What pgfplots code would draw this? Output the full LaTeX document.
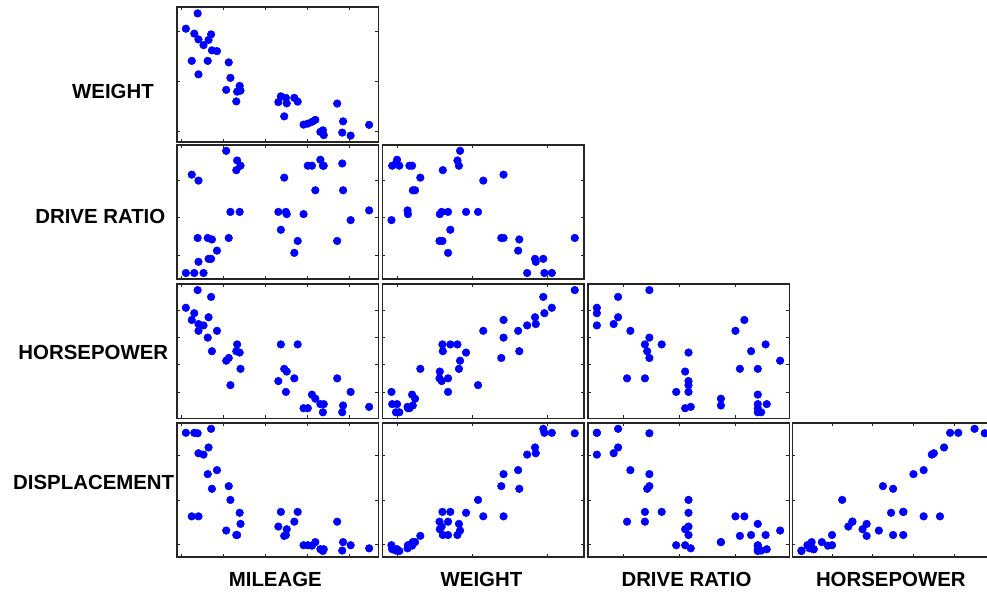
\documentclass[border=0pt]{standalone}
\usepackage{pgfplots}
\usepackage{pgfplotstable}
\pgfplotsset{compat=1.18}
\usepackage{fontspec}
\setmainfont{Liberation Sans}
\definecolor{ptblue}{RGB}{0,0,255}

\pgfplotstableread{
mpg weight drive hp disp
16.9 4.360 2.73 155 350
15.5 4.054 2.26 142 351
19.2 3.605 2.56 125 267
18.5 3.940 2.45 150 360
30.0 2.155 3.70 68 98
27.5 2.560 3.05 95 134
27.2 2.300 3.54 97 119
30.9 2.230 3.37 75 105
20.3 2.830 3.90 103 131
17.0 3.140 3.50 125 163
21.6 2.795 3.77 115 121
16.2 3.410 3.58 133 163
20.6 3.380 2.73 105 231
20.8 3.070 3.08 85 200
18.6 3.620 2.71 110 225
18.1 3.410 2.73 120 258
17.0 3.840 2.41 130 305
17.6 3.725 2.26 129 302
16.5 3.955 2.26 138 351
18.2 3.830 2.45 135 318
26.5 2.585 3.08 88 140
21.9 2.910 3.08 109 171
34.1 1.975 3.73 65 86
35.1 1.915 2.97 80 98
27.4 2.670 3.08 80 121
31.5 1.990 3.78 71 89
29.5 2.135 3.05 68 98
28.4 2.670 2.53 90 151
28.8 2.595 2.69 115 173
26.8 2.700 2.84 115 173
33.5 2.556 2.69 90 151
34.2 2.200 3.37 70 105
31.8 2.020 3.70 65 85
37.3 2.130 3.10 69 91
30.5 2.190 3.70 78 97
22.0 2.815 3.70 97 146
21.5 2.600 3.64 110 121
31.9 1.925 3.70 71 89
}\cars

\pgfplotsset{
  spm/.style={
    width=151.2pt, height=100.8pt, scale only axis,
    anchor=north west,
    xticklabels={}, yticklabels={},
    tick align=inside, tick pos=both,
    major tick length=2.25pt,
    axis line style={line width=1.2pt, black!85},
    every tick/.style={black!85, line width=0.6pt},
    clip=false,
  },
  mpgx/.style={xmin=14.41, xmax=38.39, xtick={15,20,25,30,35}},
  wtx/.style={xmin=1.793, xmax=4.482, xtick={2,3,4}},
  drx/.style={xmin=2.178, xmax=3.982, xtick={2.5,3,3.5}},
  hpx/.style={xmin=60.5, xmax=159.5, xtick={80,100,120,140}},
  wty/.style={ymin=1.793, ymax=4.482, ytick={2,3,4}},
  dry/.style={ymin=2.178, ymax=3.982, ytick={2.5,3,3.5}},
  hpy/.style={ymin=60.5, ymax=159.5, ytick={80,100,120,140}},
  dispy/.style={ymin=71.25, ymax=373.75, ytick={100,200,300}},
  pts/.style={only marks, mark=*, mark size=2.85pt, color=ptblue, mark options={draw=ptblue, fill=ptblue}},
}

\begin{document}
\begin{tikzpicture}
% Row 1
\begin{axis}[spm, mpgx, wty, at={(132.525pt,-5.475pt)}]
  \addplot[pts] table[x=mpg, y=weight] {\cars};
\end{axis}
% Row 2
\begin{axis}[spm, mpgx, dry, at={(132.525pt,-108.525pt)}]
  \addplot[pts] table[x=mpg, y=drive] {\cars};
\end{axis}
\begin{axis}[spm, wtx, dry, at={(286.725pt,-108.525pt)}]
  \addplot[pts] table[x=weight, y=drive] {\cars};
\end{axis}
% Row 3
\begin{axis}[spm, mpgx, hpy, at={(132.525pt,-213.0pt)}]
  \addplot[pts] table[x=mpg, y=hp] {\cars};
\end{axis}
\begin{axis}[spm, wtx, hpy, at={(286.725pt,-213.0pt)}]
  \addplot[pts] table[x=weight, y=hp] {\cars};
\end{axis}
\begin{axis}[spm, drx, hpy, at={(440.775pt,-213.0pt)}]
  \addplot[pts] table[x=drive, y=hp] {\cars};
\end{axis}
% Row 4
\begin{axis}[spm, mpgx, dispy, at={(132.525pt,-317.025pt)}]
  \addplot[pts] table[x=mpg, y=disp] {\cars};
\end{axis}
\begin{axis}[spm, wtx, dispy, at={(286.725pt,-317.025pt)}]
  \addplot[pts] table[x=weight, y=disp] {\cars};
\end{axis}
\begin{axis}[spm, drx, dispy, at={(440.775pt,-317.025pt)}]
  \addplot[pts] table[x=drive, y=disp] {\cars};
\end{axis}
\begin{axis}[spm, hpx, dispy, at={(594.225pt,-317.025pt)}]
  \addplot[pts] table[x=hp, y=disp] {\cars};
\end{axis}

\tikzset{lbl/.style={font=\fontsize{15.3}{18}\selectfont\bfseries, inner sep=0pt, anchor=center}}
\node[lbl] at (84.75pt,-68.775pt) {WEIGHT};
\node[lbl] at (75.225pt,-162.225pt) {DRIVE RATIO};
\node[lbl] at (69.975pt,-264pt) {HORSEPOWER};
\node[lbl] at (70.275pt,-361.5pt) {DISPLACEMENT};
\node[lbl] at (206.475pt,-434.25pt) {MILEAGE};
\node[lbl] at (361.125pt,-434.25pt) {WEIGHT};
\node[lbl] at (514.875pt,-434.25pt) {DRIVE RATIO};
\node[lbl] at (668.1pt,-434.25pt) {HORSEPOWER};

\pgfresetboundingbox
\path (0pt,0pt) rectangle (740.25pt,-444pt);
\end{tikzpicture}
\end{document}
